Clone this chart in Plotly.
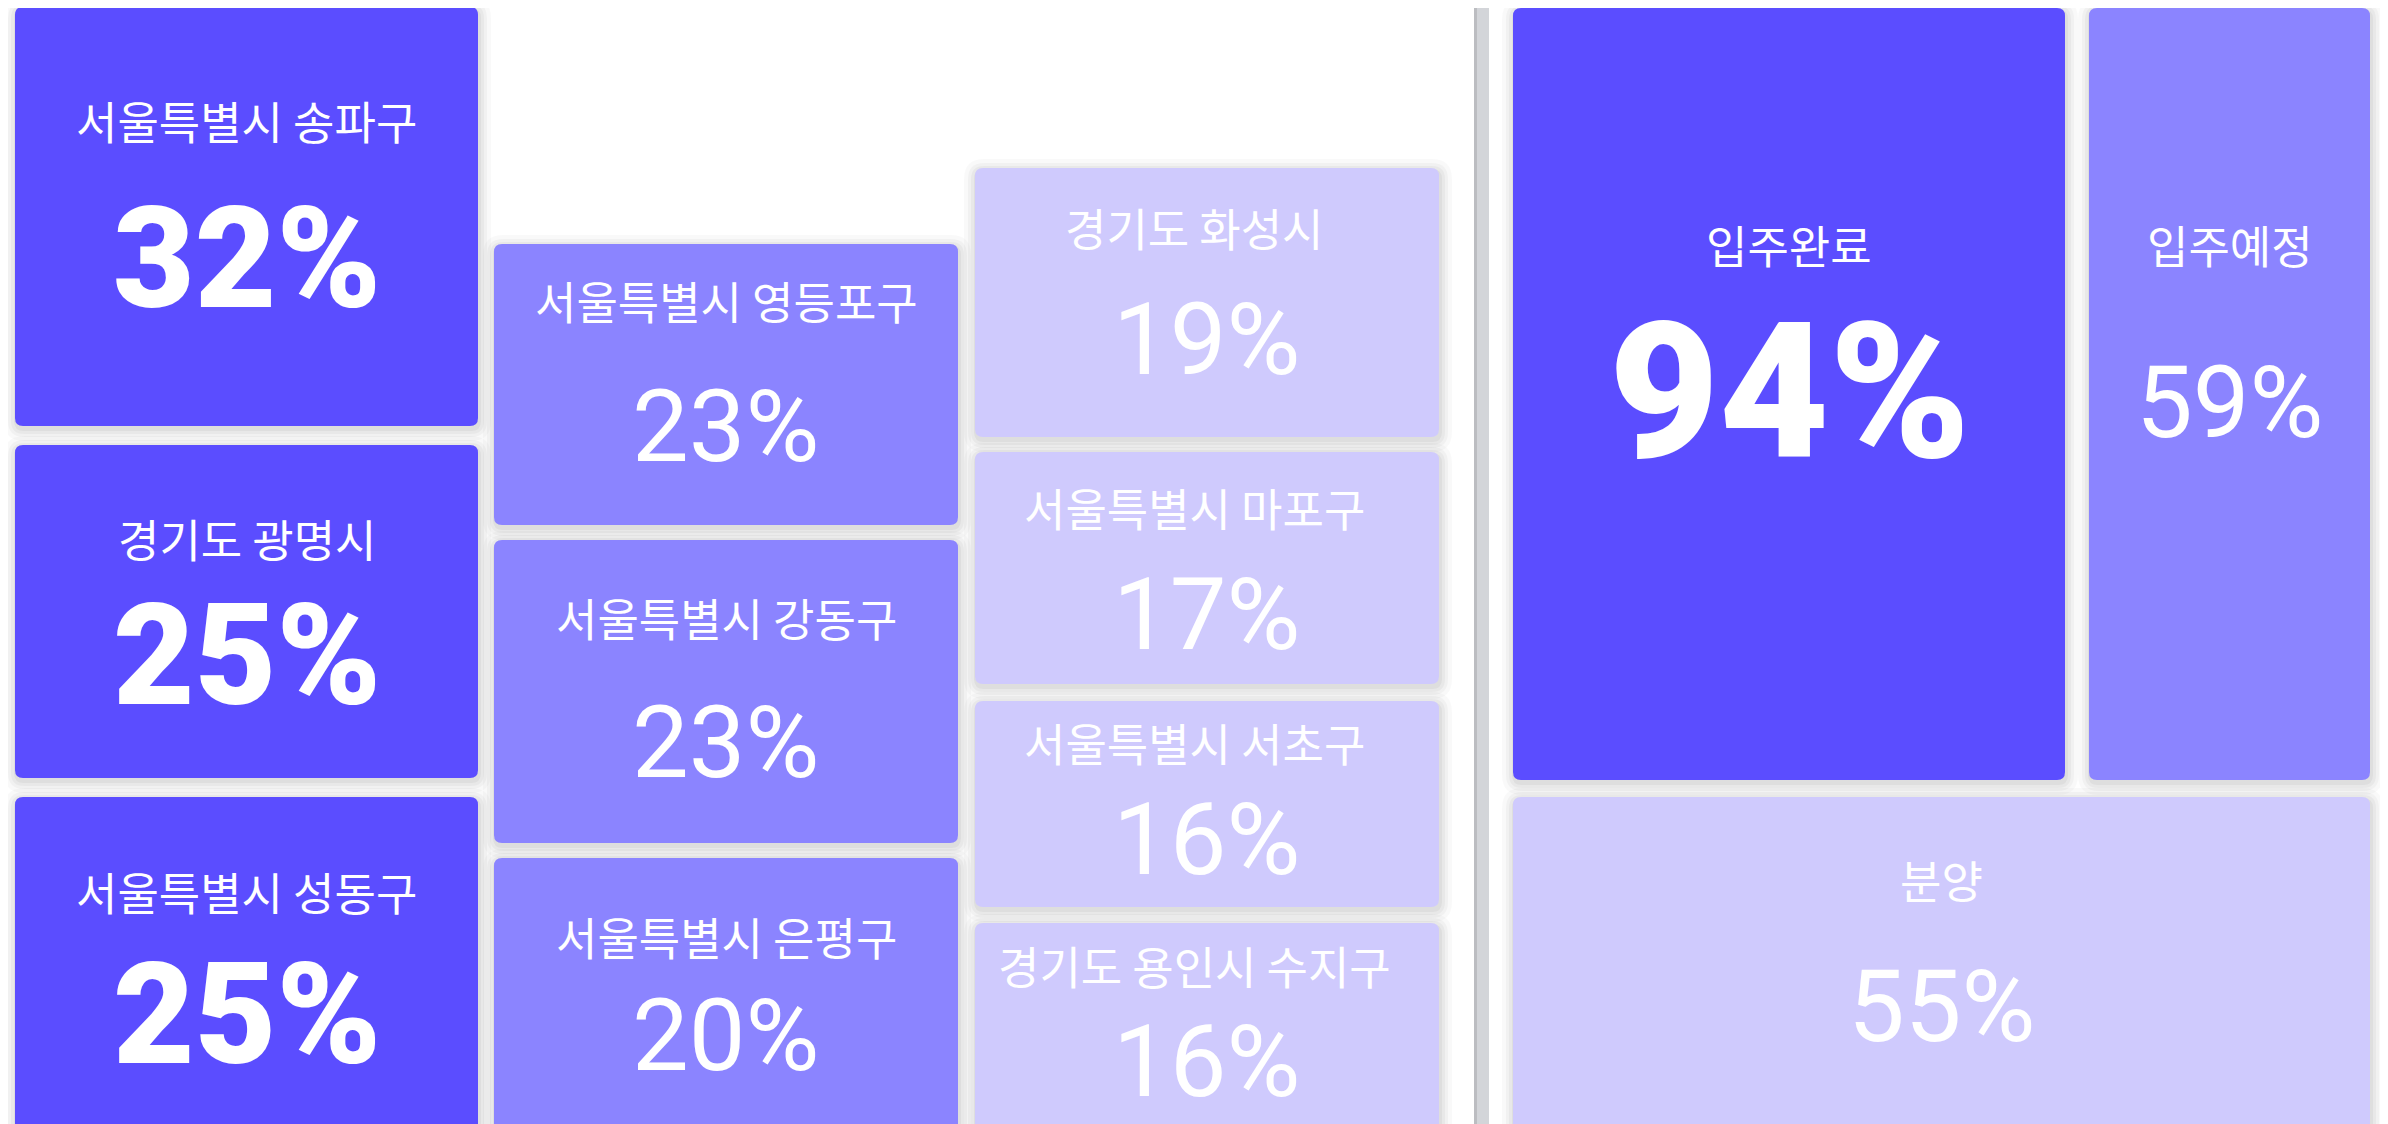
import plotly.graph_objects as go

# ---------------- data ----------------
regions = ["서울특별시 송파구", "경기도 광명시", "서울특별시 성동구",
           "서울특별시 영등포구", "서울특별시 강동구", "서울특별시 은평구",
           "경기도 화성시", "서울특별시 마포구", "서울특별시 서초구", "경기도 용인시 수지구"]
region_pct = [32, 25, 25, 23, 23, 20, 19, 17, 16, 16]
region_tier = [0, 0, 0, 1, 1, 1, 2, 2, 2, 2]

statuses = ["입주완료", "입주예정", "분양"]
status_pct = [94, 59, 55]
status_tier = [0, 1, 2]

# ---------------- styles / layout ----------------
W, H = 2388, 1124
OFF = 8  # page body margin: axis ranges shifted so data units == page pixels
tier_colors = ["#5b4dff", "#8b84ff", "#cfcafd"]
label_font = "Noto Sans CJK KR"
label_size = 45
label_dy = -6
value_font = "Roboto"

# tile geometry: (x0, x1, y0, y1, label_y, value_y, label_dx)
col_x = [(15, 478), (494, 958), (975, 1439)]
region_rows = [
    (0, 7, 426, 126, 258), (0, 445, 778, 544, 655), (0, 797, 1210, 897, 1014),
    (1, 244, 525, 306, 426), (1, 540, 843, 623, 742), (1, 858, 1210, 942, 1035),
    (2, 168, 437, 233, 339), (2, 452, 684, 513, 614), (2, 701, 907, 748, 839), (2, 923, 1210, 971, 1061),
]
col_label_dx = [0, 0, -13]
region_geom = [(col_x[c][0], col_x[c][1], y0, y1, ly, vy, col_label_dx[c]) for c, y0, y1, ly, vy in region_rows]
status_geom = [
    (1513, 2065, 8, 780, 250, 392, 0),
    (2089, 2370, 8, 780, 250, 402, 0),
    (1513, 2370, 797, 1210, 885, 1006, 0),
]
# value font (size, weight) per tier, per panel
region_value_font = {0: (141, 900), 1: (101, 400), 2: (101, 400)}
status_value_font = {0: (190, 900), 1: (101, 400), 2: (101, 400)}


def rr(x0, y0, x1, y1, r):
    return (f"M{x0+r},{y0} L{x1-r},{y0} Q{x1},{y0} {x1},{y0+r} L{x1},{y1-r} "
            f"Q{x1},{y1} {x1-r},{y1} L{x0+r},{y1} Q{x0},{y1} {x0},{y1-r} "
            f"L{x0},{y0+r} Q{x0},{y0} {x0+r},{y0} Z")


fig = go.Figure()
fig.add_trace(go.Scatter(x=[OFF, W + OFF], y=[OFF, H + OFF], mode="markers",
                         marker=dict(opacity=0), hoverinfo="skip", showlegend=False))

shapes = []
annotations = []

# divider between panels
shapes.append(dict(type="rect", xref="x", yref="y", x0=1474, x1=1489, y0=-5, y1=H + 20,
                   fillcolor="#d3d5d9", line=dict(width=0), layer="below"))
shapes.append(dict(type="rect", xref="x", yref="y", x0=1474, x1=1477, y0=-5, y1=H + 20,
                   fillcolor="#bcbdc1", line=dict(width=0), layer="below"))


def add_tile(geom, name, pct, tier, vfont):
    x0, x1, y0, y1, ly, vy, ldx = geom
    # soft shadow
    for e, a in [(12, 0.025), (8, 0.03), (5, 0.035), (2, 0.045)]:
        shapes.append(dict(type="path", xref="x", yref="y",
                           path=rr(x0 - e + 1, y0 - e + 3, x1 + e + 1, y1 + e + 3, 8 + e),
                           fillcolor=f"rgba(0,0,0,{a})", line=dict(width=0), layer="below"))
    shapes.append(dict(type="path", xref="x", yref="y", path=rr(x0, y0, x1, y1, 8),
                       fillcolor=tier_colors[tier], line=dict(width=0), layer="below"))
    cx = (x0 + x1) / 2
    annotations.append(dict(x=cx + ldx, y=ly + label_dy, xref="x", yref="y", text=name, showarrow=False,
                            xanchor="center", yanchor="middle",
                            font=dict(family=label_font, size=label_size, color="white")))
    size, weight = vfont[tier]
    annotations.append(dict(x=cx, y=vy, xref="x", yref="y", text=f"{pct}%", showarrow=False,
                            xanchor="center", yanchor="middle",
                            font=dict(family=value_font, size=size, color="white", weight=weight)))


for g, n, p, t in zip(region_geom, regions, region_pct, region_tier):
    add_tile(g, n, p, t, region_value_font)
for g, n, p, t in zip(status_geom, statuses, status_pct, status_tier):
    add_tile(g, n, p, t, status_value_font)

fig.update_layout(
    width=W, height=H,
    margin=dict(l=0, r=0, t=0, b=0),
    paper_bgcolor="white", plot_bgcolor="white",
    xaxis=dict(range=[OFF, W + OFF], visible=False, fixedrange=True),
    yaxis=dict(range=[H + OFF, OFF], visible=False, fixedrange=True),
    shapes=shapes, annotations=annotations, showlegend=False,
)

fig.write_html("out.html", config={"displayModeBar": False})
